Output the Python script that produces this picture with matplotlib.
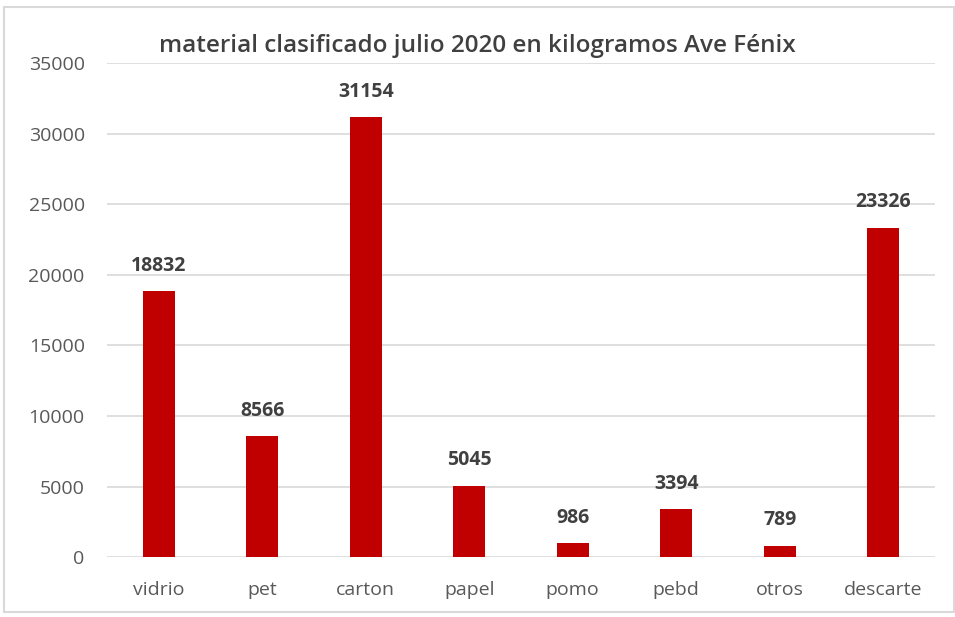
import matplotlib.pyplot as plt
from matplotlib.patches import Rectangle

categorias = ["vidrio", "pet", "carton", "papel", "pomo", "pebd", "otros", "descarte"]
kilos = [18832, 8566, 31154, 5045, 986, 3394, 789, 23326]

plt.rcParams['font.family'] = ['Open Sans', 'DejaVu Sans']

fig = plt.figure(figsize=(9.55, 6.17), dpi=100)
ax = fig.add_axes([0.112, 0.097, 0.867, 0.801])

x = range(len(categorias))
ax.bar(x, kilos, width=0.31, color="#c00000", zorder=3)
for i, v in enumerate(kilos):
    ax.text(i, v + 1100, str(v), ha="center", va="bottom", fontsize=14,
            fontweight="bold", color="#404040")

ax.set_xlim(-0.5, len(categorias) - 0.5)
ax.set_ylim(0, 35000)
ax.set_yticks(range(0, 35001, 5000))
ax.set_xticks(list(x))
ax.set_xticklabels(categorias)
ax.tick_params(axis="both", length=0, labelsize=14, labelcolor="#595959")
ax.tick_params(axis="x", pad=17)
ax.tick_params(axis="y", pad=16)
ax.grid(axis="y", color="#d9d9d9", linewidth=1.2, zorder=0)
for s in ax.spines.values():
    s.set_visible(False)

fig.text(0.5, 0.925, "material clasificado julio 2020 en kilogramos Ave Fénix",
         ha="center", va="center", fontsize=17.5, fontweight="semibold", color="#404040")

fig.patches.append(Rectangle((0.004, 0.008), 0.995, 0.981, transform=fig.transFigure,
                             fill=False, edgecolor="#d9d9d9", linewidth=1.5))

fig.savefig("out.png", dpi=100)
